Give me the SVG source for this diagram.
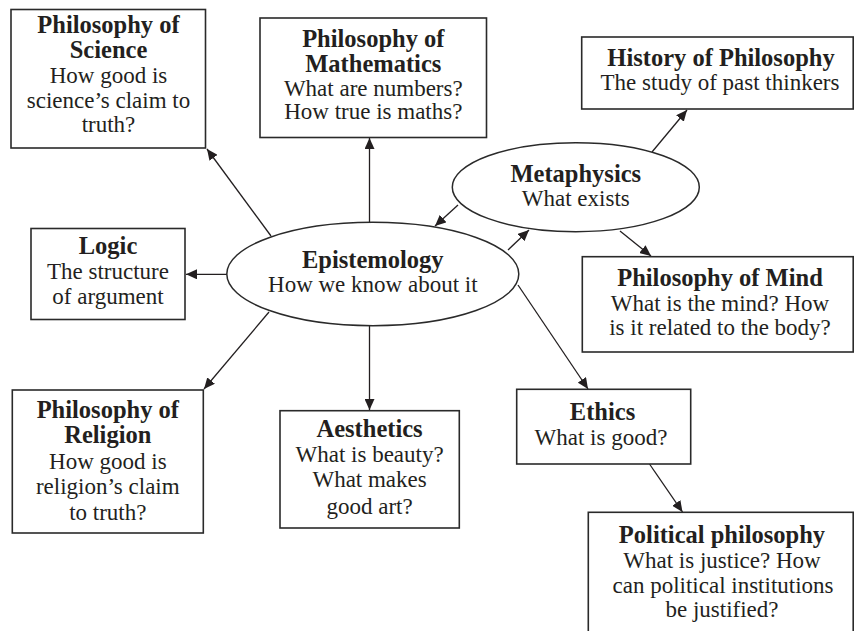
<svg xmlns="http://www.w3.org/2000/svg" width="854" height="631" viewBox="0 0 854 631">
<style>
  .box { fill: #fff; stroke: #2a2a2a; stroke-width: 1.6; }
  .ell { fill: #fff; stroke: #2a2a2a; stroke-width: 1.5; }
  .t { font-family: "Liberation Serif", "Times New Roman", serif; font-size: 23px; fill: #231f20; text-anchor: middle; }
  .b { font-weight: bold; font-size: 24.5px; }
  .c { stroke: #231f20; stroke-width: 1.3; fill: none; marker-end: url(#ah); }
</style>
<defs>
  <marker id="ah" markerUnits="userSpaceOnUse" markerWidth="12" markerHeight="10" refX="11" refY="5" orient="auto">
    <path d="M0,0 L11,5 L0,10 Z" fill="#231f20"/>
  </marker>
</defs>
<rect width="854" height="631" fill="#fff"/>

<g id="connectors">
  <line class="c" x1="271" y1="236" x2="207" y2="149"/>
  <line class="c" x1="369.5" y1="222" x2="369.5" y2="138"/>
  <line class="c" x1="227" y1="274.3" x2="186" y2="274.3"/>
  <line class="c" x1="269" y1="312" x2="204" y2="389"/>
  <line class="c" x1="369.5" y1="326" x2="369.5" y2="410"/>
  <line class="c" x1="518" y1="285" x2="588" y2="389"/>
  <line class="c" x1="458" y1="205" x2="435" y2="226"/>
  <line class="c" x1="508" y1="250" x2="529" y2="230"/>
  <line class="c" x1="652" y1="152" x2="687" y2="110"/>
  <line class="c" x1="620" y1="231" x2="651" y2="256"/>
  <line class="c" x1="649.5" y1="464" x2="682.5" y2="512"/>
</g>

<g id="science">
  <rect class="box" x="11" y="9.5" width="194.5" height="138.5"/>
  <text class="t b" x="108.5" y="33">Philosophy of</text>
  <text class="t b" x="108.5" y="58">Science</text>
  <text class="t" x="108.5" y="83">How good is</text>
  <text class="t" x="108.5" y="107.5">science’s claim to</text>
  <text class="t" x="108.5" y="132">truth?</text>
</g>

<g id="mathematics">
  <rect class="box" x="260" y="18" width="226.5" height="119.5"/>
  <text class="t b" x="373.3" y="47">Philosophy of</text>
  <text class="t b" x="373.3" y="71.5">Mathematics</text>
  <text class="t" x="373.3" y="95.5">What are numbers?</text>
  <text class="t" x="373.3" y="119">How true is maths?</text>
</g>

<g id="history">
  <rect class="box" x="581.7" y="37" width="271.5" height="72"/>
  <text class="t b" x="721" y="66">History of Philosophy</text>
  <text class="t" x="720" y="89.5">The study of past thinkers</text>
</g>

<g id="logic">
  <rect class="box" x="31" y="228.5" width="154" height="91"/>
  <text class="t b" x="108" y="253.5">Logic</text>
  <text class="t" x="108" y="279.3">The structure</text>
  <text class="t" x="108" y="304">of argument</text>
</g>

<g id="epistemology">
  <ellipse class="ell" cx="372.8" cy="274" rx="146" ry="51.7"/>
  <text class="t b" x="372.8" y="267.5">Epistemology</text>
  <text class="t" x="372.8" y="291.7">How we know about it</text>
</g>

<g id="metaphysics">
  <ellipse class="ell" cx="575.8" cy="187.2" rx="123.5" ry="44.5"/>
  <text class="t b" x="575.8" y="181.7">Metaphysics</text>
  <text class="t" x="575.8" y="206">What exists</text>
</g>

<g id="mind">
  <rect class="box" x="582.3" y="256.7" width="270.9" height="95.3"/>
  <text class="t b" x="720" y="285.5">Philosophy of Mind</text>
  <text class="t" x="720" y="310.5">What is the mind? How</text>
  <text class="t" x="720" y="334.5">is it related to the body?</text>
</g>

<g id="ethics">
  <rect class="box" x="516.7" y="389.3" width="174" height="74.7"/>
  <text class="t b" x="602.5" y="420">Ethics</text>
  <text class="t" x="601" y="445">What is good?</text>
</g>

<g id="political">
  <rect class="box" x="588.3" y="512.3" width="264.9" height="130"/>
  <text class="t b" x="722" y="543.3">Political philosophy</text>
  <text class="t" x="722" y="568.3">What is justice? How</text>
  <text class="t" x="723" y="593.3">can political institutions</text>
  <text class="t" x="722" y="617.3">be justified?</text>
</g>

<g id="religion">
  <rect class="box" x="12.3" y="390" width="191" height="143"/>
  <text class="t b" x="107.8" y="417.5">Philosophy of</text>
  <text class="t b" x="107.8" y="443">Religion</text>
  <text class="t" x="107.8" y="468.5">How good is</text>
  <text class="t" x="107.8" y="494">religion’s claim</text>
  <text class="t" x="107.8" y="519.5">to truth?</text>
</g>

<g id="aesthetics">
  <rect class="box" x="280" y="410.7" width="179.3" height="117.3"/>
  <text class="t b" x="369.6" y="437.3">Aesthetics</text>
  <text class="t" x="369.6" y="461.5">What is beauty?</text>
  <text class="t" x="369.6" y="487">What makes</text>
  <text class="t" x="369.6" y="514">good art?</text>
</g>
</svg>
